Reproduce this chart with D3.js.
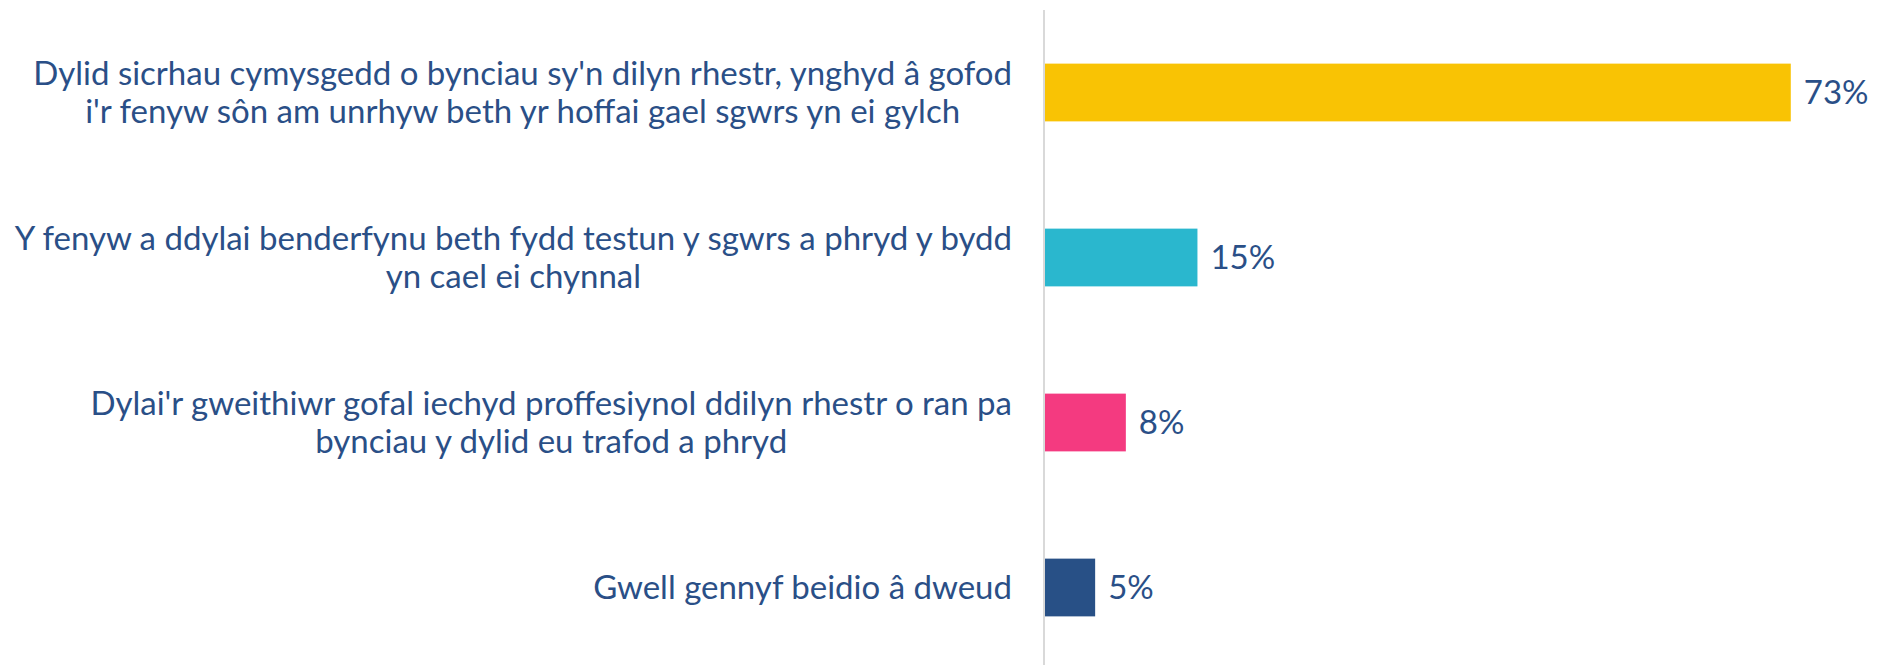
<!DOCTYPE html>
<html>
<head>
<meta charset="utf-8">
<script src="https://cdn.jsdelivr.net/npm/d3@7"></script>
<style>
  body { margin: 0; background: #fff; }
</style>
</head>
<body>
<svg class="barsvg"></svg>
<script>
// answers, one line per label line
const categories = [
  "Dylid sicrhau cymysgedd o bynciau sy'n dilyn rhestr, ynghyd â gofod\ni'r fenyw sôn am unrhyw beth yr hoffai gael sgwrs yn ei gylch",
  "Y fenyw a ddylai benderfynu beth fydd testun y sgwrs a phryd y bydd\nyn cael ei chynnal",
  "Dylai'r gweithiwr gofal iechyd proffesiynol ddilyn rhestr o ran pa\nbynciau y dylid eu trafod a phryd",
  "Gwell gennyf beidio â dweud"
];
const values = [73, 15, 8, 5];
const colours = ['#F9C304', '#2AB7CE', '#F43A80', '#285086'];

const dims = { width: 1890, height: 665 };
const margin = { left: 1044, top: 10, bottom: -5 };
const textColour = '#2A4F87';
const fontSize = 33;
const lineHeight = 38;

const svg = d3.select('.barsvg')
  .attr('width', dims.width)
  .attr('height', dims.height)
  .style('font-family', 'Lato, "Noto Sans", sans-serif');

const x = d3.scaleLinear()
  .domain([0, 100])
  .range([margin.left, margin.left + 1023]);

const y = d3.scaleBand()
  .domain(categories)
  .range([margin.top, dims.height - margin.bottom])
  .paddingInner(0.65)
  .paddingOuter(0.325);

// bars
svg.selectAll('rect.bar')
  .data(values)
  .enter()
  .append('rect')
  .attr('class', 'bar')
  .attr('x', x(0))
  .attr('y', (d, i) => y(categories[i]))
  .attr('width', d => x(d) - x(0))
  .attr('height', y.bandwidth())
  .attr('fill', (d, i) => colours[i]);

// vertical baseline
svg.append('line')
  .attr('x1', x(0)).attr('x2', x(0))
  .attr('y1', margin.top).attr('y2', dims.height)
  .attr('stroke', '#d9d9d9')
  .attr('stroke-width', 2);

// value labels
svg.selectAll('text.value')
  .data(values)
  .enter()
  .append('text')
  .attr('class', 'value')
  .attr('x', d => x(d) + 13)
  .attr('y', (d, i) => y(categories[i]) + y.bandwidth() / 2)
  .attr('dy', '0.35em')
  .attr('fill', textColour)
  .style('font-size', fontSize + 'px')
  .text(d => d + '%');

// category labels: block right aligned, lines centred inside it
const labelRight = 1012;
categories.forEach((c, i) => {
  const lines = c.split('\n');
  const g = svg.append('g');
  const cy = y(c) + y.bandwidth() / 2;
  const texts = g.selectAll('text')
    .data(lines)
    .enter()
    .append('text')
    .attr('y', (d, j) => cy + (j - (lines.length - 1) / 2) * lineHeight)
    .attr('dy', '0.35em')
    .attr('text-anchor', 'middle')
    .attr('fill', textColour)
    .style('font-size', fontSize + 'px')
    .text(d => d);
  const widest = d3.max(texts.nodes(), n => n.getComputedTextLength());
  texts.attr('x', labelRight - widest / 2);
});
</script>
</body>
</html>
